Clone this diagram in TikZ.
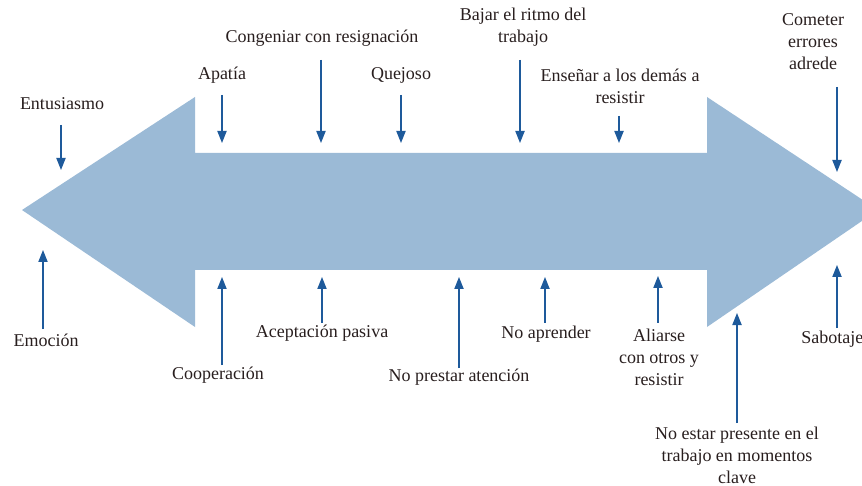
\documentclass[tikz,border=0pt]{standalone}
\usepackage{fontspec}
\setmainfont{Liberation Serif}
\usetikzlibrary{arrows.meta}

\definecolor{shaftblue}{RGB}{155,186,214}
\definecolor{sigblue}{RGB}{30,90,155}
\definecolor{inktext}{RGB}{40,30,30}

\tikzset{
  sig/.style={draw=sigblue, line width=0.7pt, -{Triangle[length=6pt, width=4.6pt]}},
  lbl/.style={inner sep=0pt, text=inktext, font=\fontsize{9}{11}\selectfont, align=center}
}

\begin{document}
\begin{tikzpicture}[x=0.5pt, y=-0.5pt]
  \useasboundingbox (0,0) rectangle (862,486);

  % the double arrow
  \fill[shaftblue] (22,210) -- (195,97) -- (195,153) -- (707,153) -- (707,97)
    -- (878,210) -- (707,327) -- (707,270) -- (195,270) -- (195,327) -- cycle;

  % labels above
  \node[lbl] (ent) at (62,104) {Entusiasmo};
  \node[lbl] (apa) at (222,75) {Apatía};
  \node[lbl] (con) at (322,38) {Congeniar con resignación};
  \node[lbl] (que) at (401,75) {Quejoso};
  \node[lbl] (baj) at (523,27) {Bajar el ritmo del\\trabajo};
  \node[lbl] (ens) at (620,86) {Enseñar a los demás a\\resistir};
  \node[lbl] (com) at (813,42) {Cometer\\errores\\adrede};

  % labels below
  \node[lbl] (emo) at (46,340) {Emoción};
  \node[lbl] (coo) at (218,375) {Cooperación};
  \node[lbl] (ace) at (322,333) {Aceptación pasiva};
  \node[lbl] (pre) at (459,377) {No prestar atención};
  \node[lbl] (apr) at (546,334) {No aprender};
  \node[lbl] (ali) at (659,357) {Aliarse\\con otros y\\resistir};
  \node[lbl] (est) at (737,455) {No estar presente en el\\trabajo en momentos\\clave};
  \node[lbl, anchor=west] (sab) at (801,339) {Sabotaje};

  % arrow ends
  \coordinate (entA) at (61,125);  \coordinate (entB) at (61,170);
  \coordinate (apaA) at (222,95);  \coordinate (apaB) at (222,143);
  \coordinate (conA) at (321,60);  \coordinate (conB) at (321,143);
  \coordinate (queA) at (401,95);  \coordinate (queB) at (401,143);
  \coordinate (bajA) at (520,60);  \coordinate (bajB) at (520,143);
  \coordinate (ensA) at (619,116); \coordinate (ensB) at (619,143);
  \coordinate (comA) at (837,87);  \coordinate (comB) at (837,172);

  \coordinate (emoA) at (43,329);  \coordinate (emoB) at (43,250);
  \coordinate (cooA) at (222,365); \coordinate (cooB) at (222,277);
  \coordinate (aceA) at (322,323); \coordinate (aceB) at (322,277);
  \coordinate (preA) at (459,368); \coordinate (preB) at (459,277);
  \coordinate (aprA) at (545,323); \coordinate (aprB) at (545,277);
  \coordinate (aliA) at (658,323); \coordinate (aliB) at (658,276);
  \coordinate (estA) at (737,423); \coordinate (estB) at (737,313);
  \coordinate (sabA) at (837,328); \coordinate (sabB) at (837,265);

  \draw[sig] (entA) -- (entB);
  \draw[sig] (apaA) -- (apaB);
  \draw[sig] (conA) -- (conB);
  \draw[sig] (queA) -- (queB);
  \draw[sig] (bajA) -- (bajB);
  \draw[sig] (ensA) -- (ensB);
  \draw[sig] (comA) -- (comB);

  \draw[sig] (emoA) -- (emoB);
  \draw[sig] (cooA) -- (cooB);
  \draw[sig] (aceA) -- (aceB);
  \draw[sig] (preA) -- (preB);
  \draw[sig] (aprA) -- (aprB);
  \draw[sig] (aliA) -- (aliB);
  \draw[sig] (estA) -- (estB);
  \draw[sig] (sabA) -- (sabB);
\end{tikzpicture}
\end{document}
